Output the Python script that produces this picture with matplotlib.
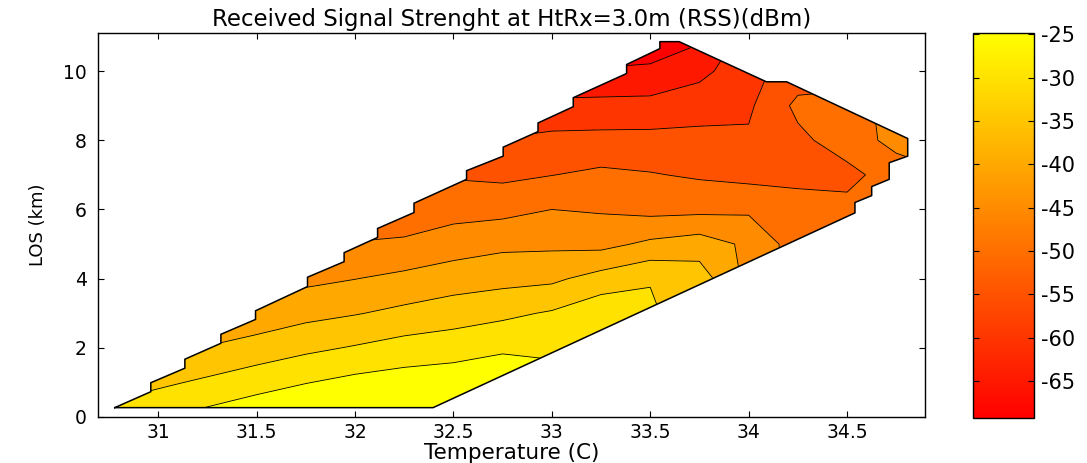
import numpy as np
import matplotlib
matplotlib.use("Agg")
import matplotlib.pyplot as plt
from matplotlib.patches import Polygon
from matplotlib import colors as mcolors

plt.rcParams["font.family"] = ["DejaVu Sans"]
plt.rcParams["axes.unicode_minus"] = False
plt.rcParams["contour.negative_linestyle"] = "solid"

# grid of the measurements (temperature in C, line of sight in km)
temperature = [30.7, 31.0, 31.25, 31.5, 31.75, 32.0, 32.25, 32.5, 32.75,
               33.0, 33.25, 33.5, 33.75, 34.0, 34.25, 34.5, 34.75, 34.9]
los = [0, 1, 2, 3, 4, 5, 6, 7, 8, 9, 10, 11]

# RSS (dBm), one row per LOS value
rss = [
    [-28, -25.6, -23.3, -21.2, -19.4, -17.7, -17.4, -16.9, -16.0, -18, -19, -22, -26, -30, -35, -40, -44, -44],
    [-33.3, -31.0, -29.1, -27.1, -25.2, -23.6, -22.7, -22.1, -20.8, -22, -21.5, -25, -29, -33, -38, -43, -46, -46],
    [-38.7, -36.5, -34.7, -32.9, -31.1, -29.6, -28.0, -27.2, -25.9, -26.5, -24, -27, -32.5, -37, -41, -46, -48, -47],
    [-44, -42, -40, -38.4, -36.5, -35.3, -33.8, -32.4, -31.1, -29.5, -26.5, -28.5, -36, -40, -44, -48, -49, -48],
    [-49, -47, -45, -43.9, -41.2, -40.1, -38.8, -37.4, -36.6, -36.0, -33, -30.5, -32.5, -41.5, -46.5, -50, -50, -49],
    [-54, -52, -50, -49, -46.6, -44.6, -44.1, -42.4, -41.1, -41, -41.5, -39, -37.5, -41, -47.5, -51, -50, -49],
    [-58, -56, -54.5, -53.5, -52, -50, -48.5, -46.9, -46.5, -45, -45.5, -46.5, -46.3, -45.8, -48.5, -48.5, -49, -48],
    [-62, -60, -58.5, -57.5, -56, -54.5, -53.5, -50.5, -51.1, -50.1, -49, -49.7, -50.6, -51.5, -51, -51.5, -47.5, -46],
    [-65, -64, -62, -61, -60, -58.5, -57.5, -55.0, -54.6, -53.6, -53.5, -53.4, -53.7, -54.3, -51.2, -47.5, -43.5, -43],
    [-68, -67, -65.5, -64.5, -63.5, -62, -61, -59, -59.8, -58.9, -58.5, -58.5, -56.9, -55.8, -48.8, -48.5, -42, -41],
    [-70, -70, -68.5, -67.5, -66.5, -65.5, -64.5, -62.5, -63.5, -64, -64.5, -63.8, -61.5, -56.5, -52.8, -52, -44, -43],
    [-72, -72, -71, -70, -69, -68.5, -67.5, -66, -67, -68, -69.5, -69.5, -66, -58, -56, -55, -47, -46],
]

# outline of the measured area
edge_temp = [30.78, 32.397, 34.54, 34.54, 34.625, 34.625, 34.714, 34.714, 34.808, 34.808,
             34.193, 34.09, 33.647, 33.549, 33.549, 33.38, 33.38, 33.109, 33.109, 32.93,
             32.93, 32.753, 32.753, 32.567, 32.567, 32.30, 32.30, 32.115, 32.115, 31.945,
             31.945, 31.759, 31.759, 31.495, 31.495, 31.319, 31.319, 31.136, 31.136, 30.963,
             30.963]
edge_los = [0.27, 0.27, 5.90, 6.20, 6.40, 6.66, 6.87, 7.35, 7.54, 8.05,
            9.69, 9.69, 10.85, 10.85, 10.65, 10.19, 9.93, 9.23, 8.97, 8.50,
            8.25, 7.80, 7.54, 7.12, 6.87, 6.18, 5.91, 5.45, 5.19, 4.75,
            4.49, 4.04, 3.77, 3.07, 2.82, 2.39, 2.13, 1.67, 1.41, 0.99,
            0.73]

levels = [-65, -60, -55, -50, -45, -40, -35, -30, -25]
rss_min, rss_max = -69.3, -24.9

xticks = [31, 31.5, 32, 32.5, 33, 33.5, 34, 34.5]
xtick_labels = ["31", "31.5", "32", "32.5", "33", "33.5", "34", "34.5"]
yticks = [0, 2, 4, 6, 8, 10]
cbar_ticks = [-65, -60, -55, -50, -45, -40, -35, -30, -25]

T, L = np.meshgrid(temperature, los)
Z = np.array(rss)

cmap = plt.get_cmap("autumn")
norm = mcolors.Normalize(rss_min, rss_max)
band_colors = [cmap(norm(v)) for v in [rss_min] + levels]

fig = plt.figure(figsize=(10.87, 4.63), dpi=100)
ax = fig.add_axes([0.0902, 0.0994, 0.7608, 0.8293])

clip = Polygon(np.column_stack([edge_temp, edge_los]), closed=True,
               transform=ax.transData, facecolor="none", edgecolor="none")

cf = ax.contourf(T, L, Z, levels=[-90] + levels + [0], colors=band_colors)
cf.set_clip_path(clip)
cl = ax.contour(T, L, Z, levels=levels, colors="k", linewidths=0.6, linestyles="solid")
cl.set_clip_path(clip)

ax.plot(edge_temp + edge_temp[:1], edge_los + edge_los[:1], color="k", lw=1.1)

ax.set_xlim(30.695, 34.896)
ax.set_ylim(0, 11.1)
ax.set_xticks(xticks)
ax.set_xticklabels(xtick_labels)
ax.set_yticks(yticks)
ax.tick_params(direction="in", length=4, top=True, right=True, labelsize=13.5)
ax.tick_params(axis="x", pad=4)
ax.tick_params(axis="y", pad=8)
for s in ax.spines.values():
    s.set_linewidth(1.0)

ax.set_title("Received Signal Strenght at HtRx=3.0m (RSS)(dBm)", fontsize=16.5, pad=5)
ax.set_xlabel("Temperature (C)", fontsize=15.5, labelpad=1)
ax.set_ylabel("LOS (km)", fontsize=13, labelpad=12)

cax = fig.add_axes([0.8949, 0.0965, 0.0567, 0.8315])
sm = plt.cm.ScalarMappable(norm=norm, cmap=cmap)
cb = fig.colorbar(sm, cax=cax, ticks=cbar_ticks)
cb.ax.tick_params(direction="in", length=4, left=True, right=True, labelsize=15, pad=5)
cb.outline.set_linewidth(1.0)

fig.savefig("out.png", dpi=100, facecolor="white")
